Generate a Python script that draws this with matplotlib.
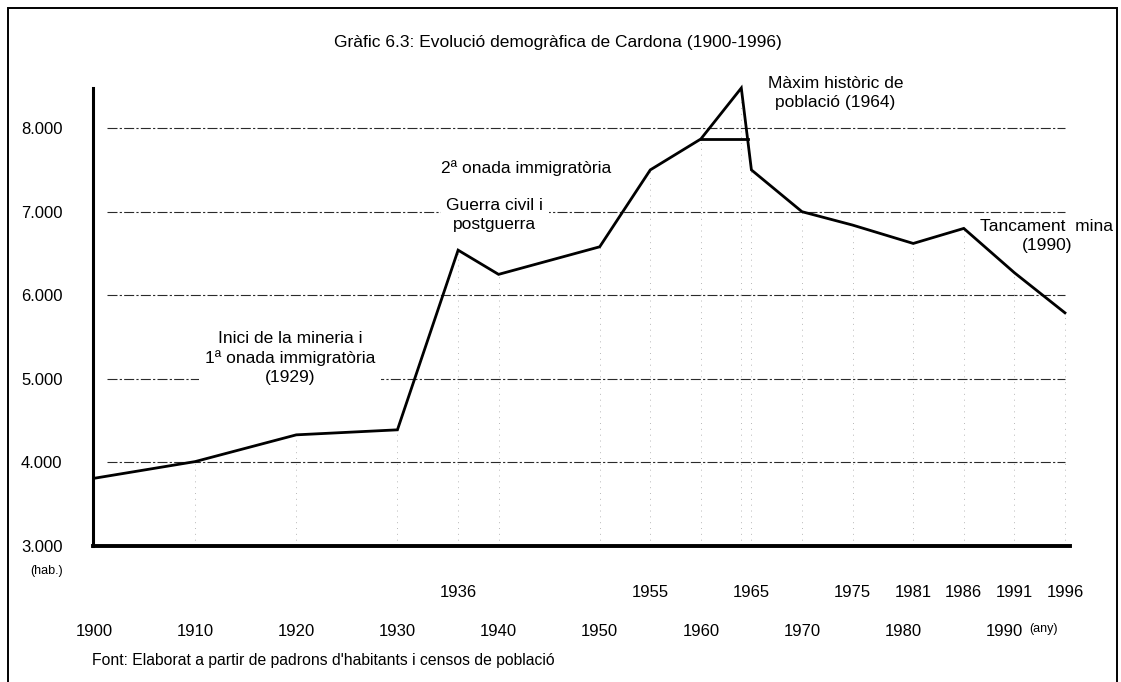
import matplotlib
matplotlib.use("Agg")
import matplotlib.pyplot as plt
from matplotlib.patches import Rectangle

plt.rcParams['font.family'] = ['Liberation Sans', 'DejaVu Sans']

# Population of Cardona (inhabitants) by year
years = [1900, 1910, 1920, 1930, 1936, 1940, 1950, 1955, 1960, 1964, 1965,
         1970, 1975, 1981, 1986, 1991, 1996]
population = [3810, 4010, 4330, 4390, 6540, 6250, 6580, 7500, 7870, 8480, 7500,
              7000, 6840, 6620, 6800, 6270, 5790]

y_ticks = [3000, 4000, 5000, 6000, 7000, 8000]
y_labels = ['3.000', '4.000', '5.000', '6.000', '7.000', '8.000']
census_ticks = [1936, 1955, 1965, 1975, 1981, 1986, 1991, 1996]
decade_ticks = [1900, 1910, 1920, 1930, 1940, 1950, 1960, 1970, 1980, 1990]

W, H = 1121, 682
fig = plt.figure(figsize=(W / 100, H / 100), dpi=100)
fig.patch.set_facecolor('white')

ax = fig.add_axes([93 / W, (H - 546) / H, (1070 - 93) / W, (546 - 88) / H])
ax.set_xlim(1899.9, 1996.5)
ax.set_ylim(3000, 8480)

for s in ('top', 'right'):
    ax.spines[s].set_visible(False)
ax.spines['left'].set_linewidth(2.2)
ax.spines['bottom'].set_linewidth(2.8)

ax.set_yticks(y_ticks)
ax.set_yticklabels(y_labels)
ax.tick_params(axis='y', length=0, pad=22, labelsize=12)

# two rows of year labels: decades (lower row) and census years (upper row)
ax.set_xticks(decade_ticks)
ax.set_xticklabels([str(y) for y in decade_ticks])
ax.set_xticks(census_ticks, minor=True)
ax.set_xticklabels([str(y) for y in census_ticks], minor=True)
ax.tick_params(axis='x', which='major', length=0, pad=56, labelsize=12)
ax.tick_params(axis='x', which='minor', length=0, pad=28, labelsize=12)

# dash-dot horizontal guides
for v in y_ticks[1:]:
    ax.axhline(v, xmin=0.014, xmax=0.995, color='#2a2a2a', lw=0.8,
               linestyle=(0, (9, 2, 2, 2)), zorder=1)

# faint dotted verticals under each data year
ax.vlines(years[1:], 3000, population[1:], colors='#b8b8b8', lw=0.7,
          linestyles=(0, (1, 5)), zorder=1)

# main population line
ax.plot(years, population, color='black', lw=2.0, solid_joinstyle='miter',
        zorder=4, clip_on=False)

# horizontal base under the 1964 peak: from 1960 to where the descent meets the 1960 level
i60, i64, i65 = years.index(1960), years.index(1964), years.index(1965)
lvl = population[i60]
frac = (population[i64] - lvl) / (population[i64] - population[i65])
x_cross = years[i64] + frac * (years[i65] - years[i64])
ax.plot([years[i60], x_cross], [lvl, lvl], color='black', lw=2.0, zorder=4)

txt = dict(fontsize=12.5, ha='center', va='center', linespacing=1.3, zorder=3)
box = dict(facecolor='white', edgecolor='none', pad=4)

ax.text(1919.4, 5250, "Inici de la mineria i\n1ª onada immigratòria\n(1929)",
        bbox=box, **txt)
ax.text(1942.7, 7520, "2ª onada immigratòria", **txt)
ax.text(1939.6, 6960, "Guerra civil i\npostguerra", bbox=box, **txt)
ax.text(1973.3, 8420, "Màxim històric de\npoblació (1964)", clip_on=False, **txt)
ax.text(1994.2, 6710, "Tancament  mina\n(1990)", clip_on=False, **txt)

fig.text(558 / W, 1 - 43 / H, "Gràfic 6.3: Evolució demogràfica de Cardona (1900-1996)",
         ha='center', va='center', fontsize=12.5)
fig.text(47 / W, 1 - 571 / H, "(hab.)", ha='center', va='center', fontsize=9)
fig.text(1043 / W, 1 - 629 / H, "(any)", ha='center', va='center', fontsize=9)
fig.text(92 / W, 1 - 661 / H,
         "Font: Elaborat a partir de padrons d'habitants i censos de població",
         ha='left', va='center', fontsize=11.3)

# outer frame (open at the bottom edge of the page)
fig.add_artist(Rectangle((8 / W, -0.05), (1117 - 8) / W, (H - 8) / H + 0.05,
                         transform=fig.transFigure, fill=False, lw=1.4,
                         edgecolor='black', clip_on=False))

fig.savefig('out.png', dpi=100, facecolor='white')
